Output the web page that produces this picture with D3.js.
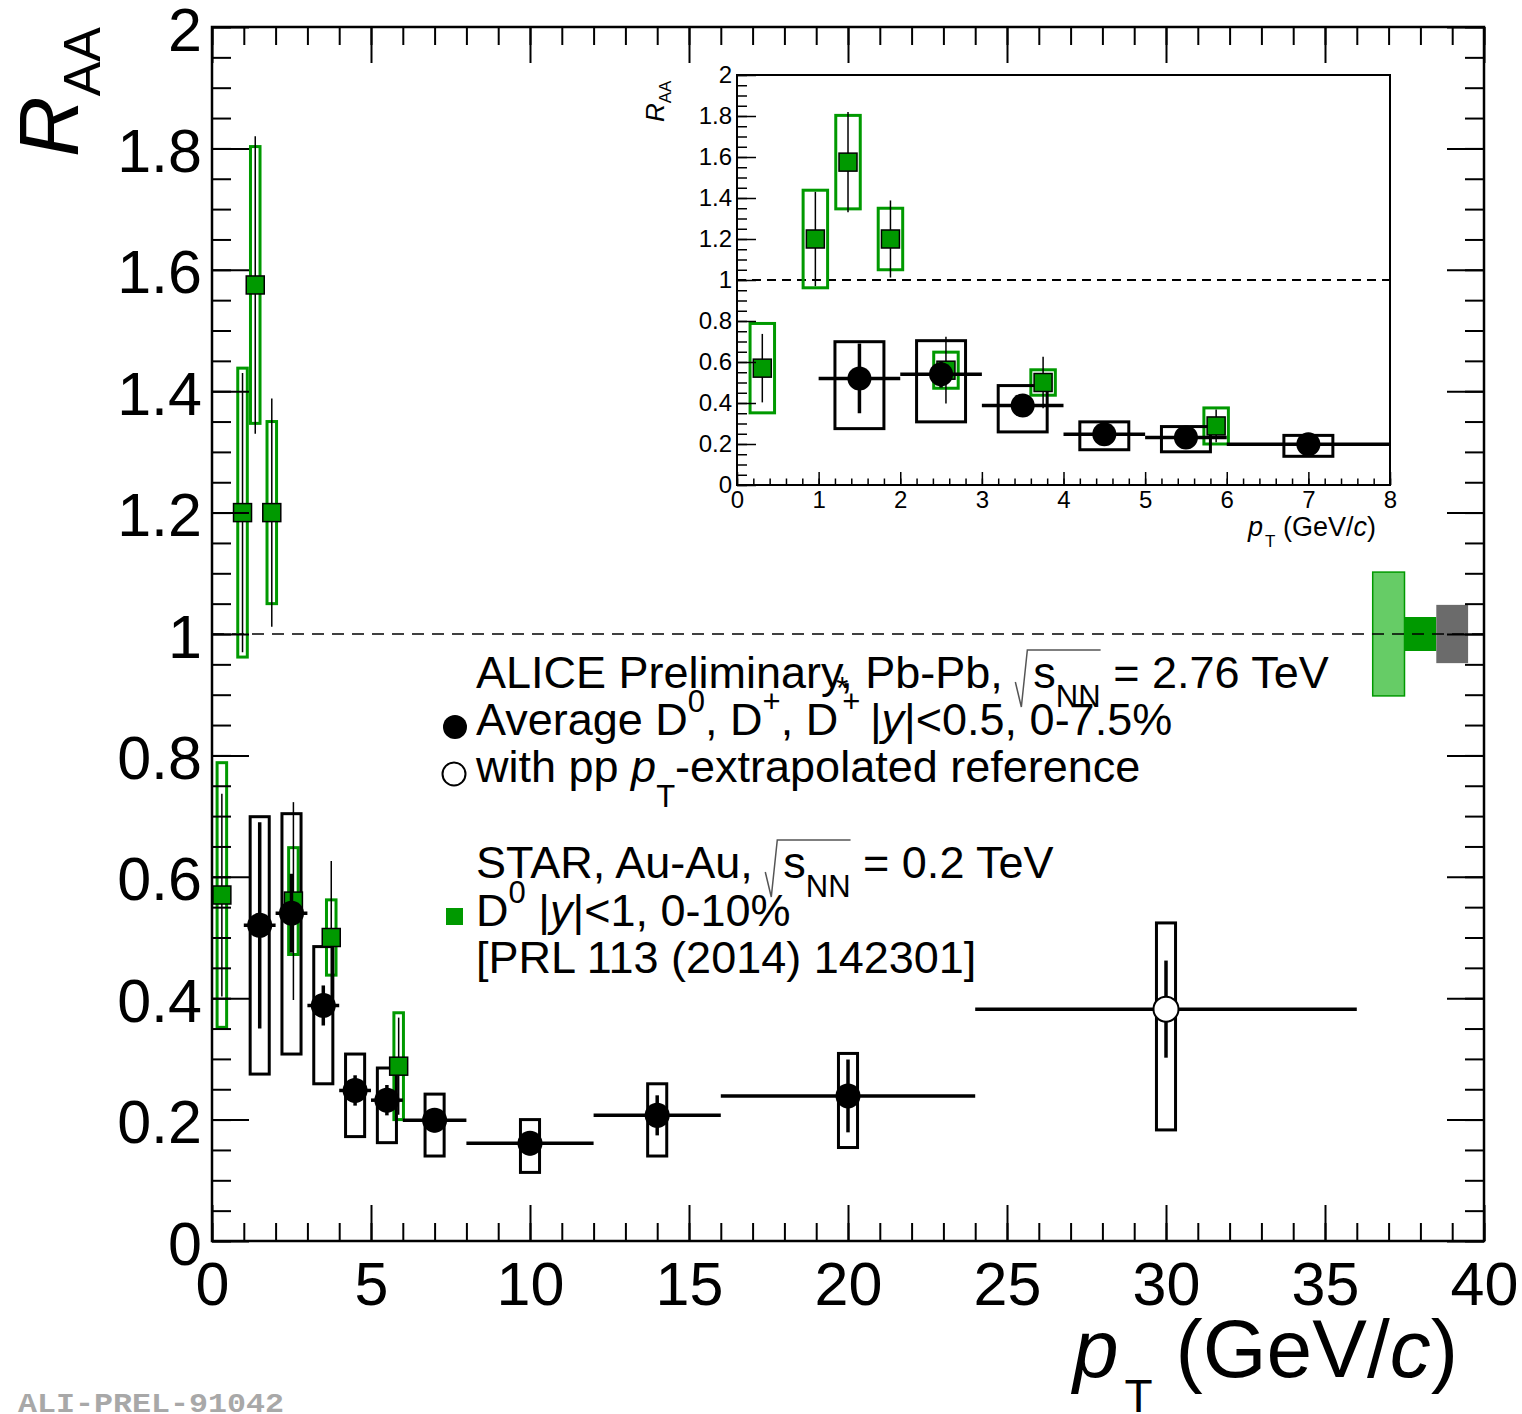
<!DOCTYPE html>
<html>
<head>
<meta charset="utf-8">
<script src="https://cdnjs.cloudflare.com/ajax/libs/d3/7.8.5/d3.min.js"></script>
<style>
  body { margin: 0; background: #fff; }
  svg { display: block; }
  text { font-family: "Liberation Sans", Arial, Helvetica, sans-serif; fill: #000; white-space: pre; }
</style>
</head>
<body>
<svg id="chart" width="1522" height="1414"></svg>
<script>
// ALICE average D0, D+, D*+ RAA, Pb-Pb 2.76 TeV, 0-7.5%
const alicePtLo = [1, 2, 3, 4, 5, 6, 8, 12, 16, 24];
const alicePtHi = [2, 3, 4, 5, 6, 8, 12, 16, 24, 36];
const alicePt = [1.5, 2.5, 3.5, 4.5, 5.5, 7, 10, 14, 20, 30];
const aliceRaa = [0.52, 0.54, 0.388, 0.248, 0.232, 0.199, 0.161, 0.207, 0.239, 0.382];
const aliceStat = [0.17, 0.065, 0.033, 0.025, 0.025, 0.02, 0.02, 0.033, 0.06, 0.08];
const aliceSystUp = [0.179, 0.164, 0.097, 0.06, 0.053, 0.043, 0.039, 0.052, 0.07, 0.142];
const aliceSystDown = [0.245, 0.232, 0.129, 0.076, 0.07, 0.059, 0.048, 0.067, 0.085, 0.199];
const aliceExtrapolated = [false, false, false, false, false, false, false, false, false, true];

// STAR D0 RAA, Au-Au 0.2 TeV, 0-10%
const starPt = [0.31, 0.96, 1.36, 1.88, 2.56, 3.75, 5.87];
const starRaa = [0.57, 1.2, 1.575, 1.2, 0.56, 0.5, 0.288];
const starStat = [0.167, 0.23, 0.245, 0.188, 0.163, 0.126, 0.08];
const starSyst = [0.218, 0.238, 0.228, 0.15, 0.088, 0.062, 0.088];

// normalisation uncertainties drawn at RAA = 1
const normPtLo = [36.5, 37.5, 38.5];
const normPtHi = [37.5, 38.5, 39.5];
const normUnc = [0.102, 0.028, 0.048];

// axis ticks
const xTickValues = [0, 5, 10, 15, 20, 25, 30, 35, 40];
const xTickLabels = ["0", "5", "10", "15", "20", "25", "30", "35", "40"];
const yTickValues = [0, 0.2, 0.4, 0.6, 0.8, 1, 1.2, 1.4, 1.6, 1.8, 2];
const yTickLabels = ["0", "0.2", "0.4", "0.6", "0.8", "1", "1.2", "1.4", "1.6", "1.8", "2"];
const insetXTickValues = [0, 1, 2, 3, 4, 5, 6, 7, 8];
const insetXTickLabels = ["0", "1", "2", "3", "4", "5", "6", "7", "8"];

const alice = alicePt.map((pt, i) => ({
  pt, lo: alicePtLo[i], hi: alicePtHi[i], raa: aliceRaa[i], stat: aliceStat[i],
  up: aliceSystUp[i], down: aliceSystDown[i], open: aliceExtrapolated[i]
}));
const star = starPt.map((pt, i) => ({ pt, raa: starRaa[i], stat: starStat[i], syst: starSyst[i] }));
const norm = normPtLo.map((lo, i) => ({ lo, hi: normPtHi[i], unc: normUnc[i] }));

const GREEN = "#009900";
const svg = d3.select("#chart");

// ---------- scales ----------
const x = d3.scaleLinear().domain([0, 40]).range([212, 1484]);
const y = d3.scaleLinear().domain([0, 2]).range([1241, 27]);
const xi = d3.scaleLinear().domain([0, 8]).range([737, 1390]);
const yi = d3.scaleLinear().domain([0, 2]).range([485, 75]);

function styleAxis(g, fontSize, tickWidth, labelDy) {
  g.select(".domain").remove();
  g.selectAll(".tick line").attr("stroke", "#000").attr("stroke-width", tickWidth);
  g.selectAll(".tick text").attr("font-size", fontSize)
    .attr("font-family", '"Liberation Sans", Arial, sans-serif').attr("fill", "#000");
  if (labelDy) g.selectAll(".tick text").attr("dy", labelDy);
}

function frameAxes(sx, sy, o) {
  const [x0, x1] = sx.range();
  const [y0, y1] = sy.range();
  const xMinor = d3.range(sx.domain()[0], sx.domain()[1] + 1e-9, o.xMinorStep);
  const yMinor = d3.range(sy.domain()[0], sy.domain()[1] + 1e-9, o.yMinorStep);
  // bottom
  svg.append("g").attr("transform", `translate(0,${y0})`)
    .call(d3.axisBottom(sx).tickValues(xMinor).tickSize(-o.xMinorLen).tickFormat(""))
    .call(g => styleAxis(g, 0, o.tickWidth));
  svg.append("g").attr("transform", `translate(0,${y0})`)
    .call(d3.axisBottom(sx).tickValues(o.xTicks).tickSize(-o.xMajorLen).tickPadding(o.xPad)
      .tickFormat((d, i) => o.xLabels[i]))
    .call(g => styleAxis(g, o.fontSize, o.tickWidth));
  // left
  svg.append("g").attr("transform", `translate(${x0},0)`)
    .call(d3.axisLeft(sy).tickValues(yMinor).tickSize(-o.yMinorLen).tickFormat(""))
    .call(g => styleAxis(g, 0, o.tickWidth));
  svg.append("g").attr("transform", `translate(${x0},0)`)
    .call(d3.axisLeft(sy).tickValues(yTickValues).tickSize(-o.yMajorLen).tickPadding(o.yPad)
      .tickFormat((d, i) => yTickLabels[i]))
    .call(g => styleAxis(g, o.fontSize, o.tickWidth, o.yLabelDy));
  if (o.mirror) {
    svg.append("g").attr("transform", `translate(0,${y1})`)
      .call(d3.axisTop(sx).tickValues(xMinor).tickSize(-o.xMinorLen).tickFormat(""))
      .call(g => styleAxis(g, 0, o.tickWidth));
    svg.append("g").attr("transform", `translate(0,${y1})`)
      .call(d3.axisTop(sx).tickValues(o.xTicks).tickSize(-o.xMajorLen).tickFormat(""))
      .call(g => styleAxis(g, 0, o.tickWidth));
    svg.append("g").attr("transform", `translate(${x1},0)`)
      .call(d3.axisRight(sy).tickValues(yMinor).tickSize(-o.yMinorLen).tickFormat(""))
      .call(g => styleAxis(g, 0, o.tickWidth));
    svg.append("g").attr("transform", `translate(${x1},0)`)
      .call(d3.axisRight(sy).tickValues(yTickValues).tickSize(-o.yMajorLen).tickFormat(""))
      .call(g => styleAxis(g, 0, o.tickWidth));
  }
  svg.append("rect").attr("x", x0).attr("y", y1).attr("width", x1 - x0).attr("height", y0 - y1)
    .attr("fill", "none").attr("stroke", "#000").attr("stroke-width", o.frameWidth);
}

function drawData(g, sx, sy, o) {
  // reference line at RAA = 1
  g.append("line").attr("x1", sx.range()[0]).attr("x2", sx.range()[1])
    .attr("y1", sy(1)).attr("y2", sy(1))
    .attr("stroke", "#000").attr("stroke-width", o.dashWidth).attr("stroke-dasharray", o.dash);

  // systematic boxes
  g.selectAll(null).data(star).join("rect")
    .attr("x", d => sx(d.pt - 0.15)).attr("width", d => sx(d.pt + 0.15) - sx(d.pt - 0.15))
    .attr("y", d => sy(d.raa + d.syst)).attr("height", d => sy(d.raa - d.syst) - sy(d.raa + d.syst))
    .attr("fill", "none").attr("stroke", GREEN).attr("stroke-width", o.boxWidth);
  g.selectAll(null).data(alice).join("rect")
    .attr("x", d => sx(d.pt - 0.3)).attr("width", d => sx(d.pt + 0.3) - sx(d.pt - 0.3))
    .attr("y", d => sy(d.raa + d.up)).attr("height", d => sy(d.raa - d.down) - sy(d.raa + d.up))
    .attr("fill", "none").attr("stroke", "#000").attr("stroke-width", o.boxWidth);

  // STAR statistical errors and markers
  g.selectAll(null).data(star).join("line")
    .attr("x1", d => sx(d.pt)).attr("x2", d => sx(d.pt))
    .attr("y1", d => sy(d.raa - d.stat)).attr("y2", d => sy(d.raa + d.stat))
    .attr("stroke", "#000").attr("stroke-width", o.thinWidth);
  g.selectAll(null).data(star).join("rect")
    .attr("x", d => sx(d.pt) - o.sq / 2).attr("y", d => sy(d.raa) - o.sq / 2)
    .attr("width", o.sq).attr("height", o.sq)
    .attr("fill", GREEN).attr("stroke", "#000").attr("stroke-width", 1.5);

  // ALICE bin widths, statistical errors and markers
  g.selectAll(null).data(alice).join("line")
    .attr("x1", d => sx(d.lo)).attr("x2", d => sx(d.hi))
    .attr("y1", d => sy(d.raa)).attr("y2", d => sy(d.raa))
    .attr("stroke", "#000").attr("stroke-width", o.barWidth);
  g.selectAll(null).data(alice).join("line")
    .attr("x1", d => sx(d.pt)).attr("x2", d => sx(d.pt))
    .attr("y1", d => sy(d.raa - d.stat)).attr("y2", d => sy(d.raa + d.stat))
    .attr("stroke", "#000").attr("stroke-width", o.barWidth);
  g.selectAll(null).data(alice).join("circle")
    .attr("cx", d => sx(d.pt)).attr("cy", d => sy(d.raa)).attr("r", o.r)
    .attr("fill", d => d.open ? "#fff" : "#000")
    .attr("stroke", "#000").attr("stroke-width", d => d.open ? 2 : 0);
}

// ---------- main panel ----------
const mainG = svg.append("g");
// normalisation boxes at unity
mainG.selectAll(null).data(norm).join("rect")
  .attr("x", d => x(d.lo)).attr("width", d => x(d.hi) - x(d.lo))
  .attr("y", d => y(1 + d.unc)).attr("height", d => y(1 - d.unc) - y(1 + d.unc))
  .attr("fill", (d, i) => ["#66cc66", GREEN, "#6b6b6b"][i])
  .attr("stroke", (d, i) => i === 0 ? GREEN : "none").attr("stroke-width", 1.5);

drawData(mainG, x, y, {
  dash: "12,8", dashWidth: 1.5, boxWidth: 3, thinWidth: 1.5, barWidth: 3.5, sq: 18, r: 12.5
});

frameAxes(x, y, {
  xTicks: xTickValues, xLabels: xTickLabels, xMinorStep: 1, yMinorStep: 0.05,
  xMajorLen: 36, xMinorLen: 18, yMajorLen: 37, yMinorLen: 19,
  xPad: 21, yPad: 10, fontSize: 61, tickWidth: 2, frameWidth: 2.5, mirror: true, yLabelDy: "0.38em"
});

// axis titles
svg.append("text").attr("transform", "translate(78,157) rotate(-90)")
  .call(t => {
    t.append("tspan").attr("font-size", 84).attr("font-style", "italic").text("R");
    t.append("tspan").attr("font-size", 52).attr("dy", 22).text("AA");
  });
svg.append("text").attr("x", 1073).attr("y", 1377)
  .call(t => {
    t.append("tspan").attr("font-size", 82).attr("font-style", "italic").text("p");
    t.append("tspan").attr("font-size", 46).attr("dy", 35).attr("dx", 6).text("T");
    t.append("tspan").attr("font-size", 82).attr("dy", -35).text(" (GeV/");
    t.append("tspan").attr("font-size", 82).attr("font-style", "italic").text("c");
    t.append("tspan").attr("font-size", 82).text(")");
  });

// ---------- legend ----------
// lays out a line of mixed-size segments; `back` pulls the next segment leftwards
function richLine(x0, base, segs, size) {
  let cx = x0;
  segs.forEach(s => {
    if (s.radical) {
      const start = cx;
      const path = svg.append("path").attr("fill", "none").attr("stroke", "#555").attr("stroke-width", 1.5);
      cx += 18;
      s.radical.forEach(r => {
        const t = svg.append("text").attr("x", cx).attr("y", base + (r.dy || 0))
          .attr("font-size", r.size || size).text(r.t);
        cx += t.node().getComputedTextLength();
      });
      path.attr("d", `M${start},${base - 6} L${start + 6},${base + 19} L${start + 12},${base - 38} L${cx},${base - 38}`);
      return;
    }
    const t = svg.append("text").attr("x", cx).attr("y", base + (s.dy || 0))
      .attr("font-size", s.size || size).attr("font-style", s.it ? "italic" : "normal").text(s.t);
    cx += t.node().getComputedTextLength() - (s.back || 0);
  });
}
const LX = 476, FS = 45, SUB = 31;
richLine(LX, 688, [
  { t: "ALICE Preliminary, Pb-Pb, " },
  { radical: [{ t: "s" }, { t: "NN", size: SUB, dy: 19 }] },
  { t: " = 2.76 TeV" }
], FS);
richLine(LX, 735, [
  { t: "Average D" }, { t: "0", size: SUB, dy: -23 }, { t: ", D" }, { t: "+", size: SUB, dy: -23 },
  { t: ", D", back: 2 }, { t: "*", size: SUB, dy: -36, back: 6 }, { t: "+", size: SUB, dy: -23, back: 3 },
  { t: " |" }, { t: "y", it: true }, { t: "|<0.5, 0-7.5%" }
], FS);
richLine(LX, 782, [
  { t: "with pp " }, { t: "p", it: true }, { t: "T", size: SUB, dy: 25 }, { t: "-extrapolated reference" }
], FS);
richLine(LX, 878, [
  { t: "STAR, Au-Au, " },
  { radical: [{ t: "s" }, { t: "NN", size: SUB, dy: 19 }] },
  { t: " = 0.2 TeV" }
], FS);
richLine(LX, 926, [
  { t: "D" }, { t: "0", size: SUB, dy: -23 }, { t: " |" }, { t: "y", it: true }, { t: "|<1, 0-10%" }
], FS);
richLine(LX, 973, [{ t: "[PRL 113 (2014) 142301]" }], FS);

svg.append("circle").attr("cx", 455).attr("cy", 727).attr("r", 12).attr("fill", "#000");
svg.append("circle").attr("cx", 454).attr("cy", 774).attr("r", 11.5)
  .attr("fill", "#fff").attr("stroke", "#000").attr("stroke-width", 2);
svg.append("rect").attr("x", 446).attr("y", 908).attr("width", 17).attr("height", 17).attr("fill", GREEN);

// ---------- inset (zoom on low pT) ----------
svg.append("rect").attr("x", 737).attr("y", 75).attr("width", 653).attr("height", 410).attr("fill", "#fff");
svg.append("clipPath").attr("id", "insetClip")
  .append("rect").attr("x", 737).attr("y", 75).attr("width", 653).attr("height", 410);
const insetG = svg.append("g").attr("clip-path", "url(#insetClip)");
drawData(insetG, xi, yi, {
  dash: "9,6", dashWidth: 2, boxWidth: 3, thinWidth: 1.5, barWidth: 3.5, sq: 18, r: 12
});
frameAxes(xi, yi, {
  xTicks: insetXTickValues, xLabels: insetXTickLabels, xMinorStep: 0.2, yMinorStep: 0.05,
  xMajorLen: 13, xMinorLen: 6.5, yMajorLen: 19, yMinorLen: 10,
  xPad: 6, yPad: 5, fontSize: 24, tickWidth: 1.5, frameWidth: 2, mirror: false
});
svg.append("text").attr("transform", "translate(664,122) rotate(-90)")
  .call(t => {
    t.append("tspan").attr("font-size", 26).attr("font-style", "italic").text("R");
    t.append("tspan").attr("font-size", 17).attr("dy", 7).text("AA");
  });
svg.append("text").attr("x", 1248).attr("y", 536)
  .call(t => {
    t.append("tspan").attr("font-size", 27).attr("font-style", "italic").text("p");
    t.append("tspan").attr("font-size", 17).attr("dy", 11).attr("dx", 2).text("T");
    t.append("tspan").attr("font-size", 27).attr("dy", -11).text(" (GeV/");
    t.append("tspan").attr("font-size", 27).attr("font-style", "italic").text("c");
    t.append("tspan").attr("font-size", 27).text(")");
  });

// ---------- figure tag ----------
svg.append("text").attr("x", 18).attr("y", 1412)
  .style("font-family", '"Liberation Mono", "DejaVu Sans Mono", monospace')
  .attr("font-weight", "bold").attr("font-size", 27)
  .style("fill", "#a8a8a8")
  .attr("textLength", 266).attr("lengthAdjust", "spacingAndGlyphs")
  .text("ALI-PREL-91042");
</script>
</body>
</html>
